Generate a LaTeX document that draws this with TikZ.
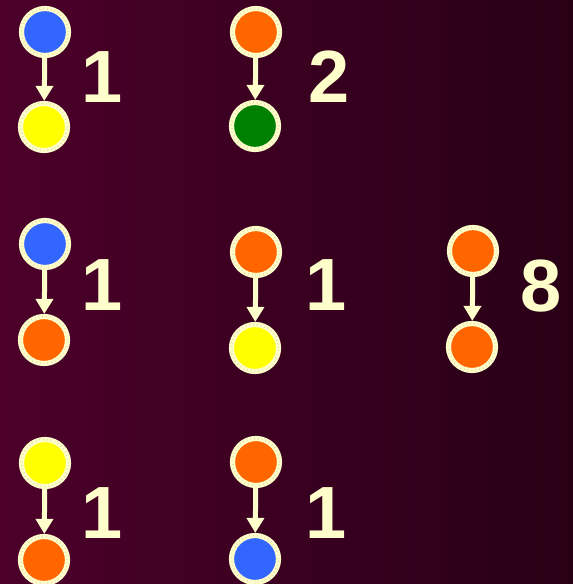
\documentclass[tikz,border=0pt]{standalone}
\usepackage{fontspec}
\setmainfont{Liberation Sans}
\usetikzlibrary{arrows.meta}
\definecolor{bgleft}{RGB}{76,0,42}
\definecolor{bgright}{RGB}{40,0,22}
\definecolor{cream}{RGB}{255,255,204}
\definecolor{tickcream}{RGB}{226,216,170}
\definecolor{cblue}{RGB}{51,102,255}
\definecolor{cyellow}{RGB}{255,255,0}
\definecolor{corange}{RGB}{255,102,0}
\definecolor{cgreen}{RGB}{0,128,0}

\begin{document}
\begin{tikzpicture}[x=0.5pt, y=-0.5pt,
    ball/.style={circle, draw=cream, line width=2.6pt, minimum size=23.5pt, inner sep=0pt,
      postaction={draw=tickcream, line width=1.2pt, dash pattern=on 0.3pt off 1.6pt}},
    link/.style={draw=cream, line width=2.5pt, -{Triangle[width=8.5pt, length=7.5pt]}},
    num/.style={text=cream, inner sep=0pt, font=\fontsize{37}{37}\selectfont\bfseries}]
  \useasboundingbox (0,0) rectangle (573,584);
  \shade[left color=bgleft, right color=bgright] (0,0) rectangle (573,584);
  % pairs: name / x / top y / bottom y / top colour / bottom colour
  \foreach \n/\x/\ya/\yb/\ca/\cb in {
      a/45/32/127/cblue/cyellow,
      b/256/32/126/corange/cgreen,
      c/45/244/340/cblue/corange,
      d/256/252/348/corange/cyellow,
      e/473/251/347/corange/corange,
      f/45/463/560/cyellow/corange,
      g/256/462/559/corange/cblue} {
    \node[ball, fill=\ca] (top\n) at (\x,\ya) {};
    \node[ball, fill=\cb] (bot\n) at (\x-1,\yb) {};
    \draw[link] (top\n) -- (bot\n);
  }
  % counts
  \foreach \n/\x/\y/\t in {a/102/77/1, b/329/77/2, c/102/285/1, d/326/285/1,
      e/541/286/8, f/102/513/1, g/326/513/1} {
    \node[num] (num\n) at (\x,\y) {\t};
  }
\end{tikzpicture}
\end{document}
